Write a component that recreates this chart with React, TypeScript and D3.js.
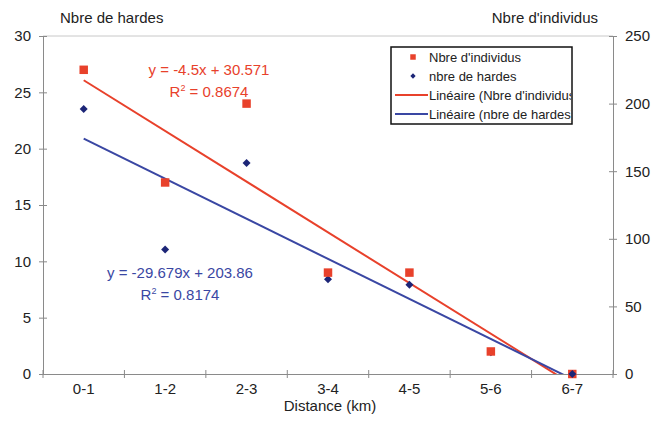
import React, { useRef, useEffect } from 'react';
import * as d3 from 'd3';

const categories = ['0-1', '1-2', '2-3', '3-4', '4-5', '5-6', '6-7'];
// red squares, read on the left axis
const individus = [27, 17, 24, 9, 9, 2, 0];
// blue diamonds, read on the right axis
const hardes = [196, 92, 156, 70, 66, 16, 0];
const leftTicks = [0, 5, 10, 15, 20, 25, 30];
const rightTicks = [0, 50, 100, 150, 200, 250];
const legendLabels = ["Nbre d'individus", 'nbre de hardes', "Linéaire (Nbre d'individus)", 'Linéaire (nbre de hardes)'];
const redEquation = ['y = -4.5x + 30.571', '0.8674'];
const blueEquation = ['y = -29.679x + 203.86', '0.8174'];

const RED = '#e8412b';
const BLUE = '#1c2577';
const BLUE_LINE = '#3a47a3';
const FONT = '"Liberation Sans", Arial, sans-serif';

// least squares fit on x = 1..n, like Excel's linear trendline
const fit = (ys: number[]) => {
  const xs = ys.map((_, i) => i + 1);
  const mx = d3.mean(xs)!;
  const my = d3.mean(ys)!;
  const sxy = d3.sum(xs, (x, i) => (x - mx) * (ys[i] - my));
  const sxx = d3.sum(xs, (x) => (x - mx) ** 2);
  const slope = sxy / sxx;
  return { slope, intercept: my - slope * mx };
};

const Chart = () => {
  const ref = useRef<SVGSVGElement>(null);

  useEffect(() => {
    const width = 662;
    const height = 424;
    const m = { left: 43, right: 613, top: 36, bottom: 374 };

    const svg = d3.select(ref.current).attr('width', width).attr('height', height);
    svg.selectAll('*').remove();

    const x = d3.scaleBand().domain(categories).range([m.left, m.right]);
    const xNum = d3.scaleLinear().domain([0.5, 7.5]).range([m.left, m.right]);
    const yL = d3.scaleLinear().domain([0, 30]).range([m.bottom, m.top]);
    const yR = d3.scaleLinear().domain([0, 250]).range([m.bottom, m.top]);

    svg.append('rect').attr('width', width).attr('height', height).attr('fill', '#fff');

    svg.append('defs').append('clipPath').attr('id', 'plot')
      .append('rect').attr('x', m.left).attr('y', m.top)
      .attr('width', m.right - m.left).attr('height', m.bottom - m.top);

    // plot area top border
    svg.append('line').attr('x1', m.left).attr('x2', m.right)
      .attr('y1', m.top).attr('y2', m.top).attr('stroke', '#c8c8c8');

    const axisColor = '#8a8a8a';
    const tickText = (g: any) => g.selectAll('text')
      .attr('font-family', FONT).attr('font-size', 15).attr('fill', '#222');

    const left = svg.append('g').attr('transform', `translate(${m.left},0)`)
      .call(d3.axisLeft(yL).tickValues(leftTicks).tickSize(4).tickSizeOuter(0).tickPadding(8));
    left.call(tickText);

    const right = svg.append('g').attr('transform', `translate(${m.right},0)`)
      .call(d3.axisRight(yR).tickValues(rightTicks).tickSize(4).tickSizeOuter(0).tickPadding(8));
    right.call(tickText);

    const bottom = svg.append('g').attr('transform', `translate(0,${m.bottom})`)
      .call(d3.axisBottom(x).tickSize(0).tickSizeOuter(0).tickPadding(9));
    bottom.call(tickText);

    // category boundary ticks
    svg.append('g').selectAll('line')
      .data(d3.range(categories.length + 1))
      .join('line')
      .attr('x1', (i) => m.left + i * x.step()).attr('x2', (i) => m.left + i * x.step())
      .attr('y1', m.bottom - 4).attr('y2', m.bottom + 4)
      .attr('stroke', axisColor);

    [left, right, bottom].forEach((g) => {
      g.select('.domain').attr('stroke', axisColor);
      g.selectAll('.tick line').attr('stroke', axisColor);
    });
    // make y ticks cross the axis
    left.selectAll('.tick line').attr('x1', 4);
    right.selectAll('.tick line').attr('x1', -4);

    // trend lines
    const trend = (ys: number[], scale: any, color: string) => {
      const { slope, intercept } = fit(ys);
      const line = d3.line<number>()
        .x((d) => xNum(d))
        .y((d) => scale(slope * d + intercept));
      svg.append('path').datum([1, categories.length])
        .attr('d', line).attr('fill', 'none')
        .attr('stroke', color).attr('stroke-width', 2)
        .attr('clip-path', 'url(#plot)');
    };
    trend(individus, yL, RED);
    trend(hardes, yR, BLUE_LINE);

    // markers
    const sq = d3.symbol().type(d3.symbolSquare).size(72);
    const dia = d3.symbol().type(d3.symbolSquare).size(32);
    const cx = (i: number) => x(categories[i])! + x.bandwidth() / 2;
    svg.append('g').selectAll('path').data(hardes).join('path')
      .attr('d', dia)
      .attr('transform', (d, i) => `translate(${cx(i)},${yR(d)}) rotate(45)`)
      .attr('fill', BLUE);
    svg.append('g').selectAll('path').data(individus).join('path')
      .attr('d', sq)
      .attr('transform', (d, i) => `translate(${cx(i)},${yL(d)})`)
      .attr('fill', RED);
    // last point: blue diamond on top of the red square
    svg.append('path').attr('d', dia)
      .attr('transform', `translate(${cx(6)},${yR(hardes[6])}) rotate(45)`)
      .attr('fill', BLUE);

    // axis titles
    const text = (tx: number, ty: number, s: string, anchor = 'start', size = 15, color = '#222') =>
      svg.append('text').attr('x', tx).attr('y', ty).attr('text-anchor', anchor)
        .attr('font-family', FONT).attr('font-size', size).attr('fill', color).text(s);
    text(60, 23, 'Nbre de hardes');
    text(598, 23, "Nbre d'individus", 'end');
    text(330, 411, 'Distance (km)', 'middle', 15);

    // equations
    const eq = (ex: number, ey: number, lines: string[], color: string) => {
      text(ex, ey, lines[0], 'middle', 15, color);
      const r = svg.append('text').attr('x', ex).attr('y', ey + 22).attr('text-anchor', 'middle')
        .attr('font-family', FONT).attr('font-size', 15).attr('fill', color);
      r.append('tspan').text('R');
      r.append('tspan').attr('font-size', 9).attr('dy', -6).text('2');
      r.append('tspan').attr('dy', 6).text(` = ${lines[1]}`);
    };
    eq(209, 75, redEquation, RED);
    eq(180, 278, blueEquation, BLUE_LINE);

    // legend
    const lg = { x: 391, y: 47, w: 181, h: 77 };
    svg.append('defs').append('clipPath').attr('id', 'legend')
      .append('rect').attr('x', lg.x).attr('y', lg.y).attr('width', lg.w - 1).attr('height', lg.h);
    svg.append('rect').attr('x', lg.x).attr('y', lg.y).attr('width', lg.w).attr('height', lg.h)
      .attr('fill', '#fff').attr('stroke', '#111').attr('stroke-width', 1.5);
    const items = svg.append('g').attr('clip-path', 'url(#legend)');
    legendLabels.forEach((label, i) => {
      const cy = lg.y + 10 + i * 19;
      if (i === 0) items.append('path').attr('d', d3.symbol().type(d3.symbolSquare).size(30))
        .attr('transform', `translate(413,${cy})`).attr('fill', RED);
      if (i === 1) items.append('path').attr('d', d3.symbol().type(d3.symbolSquare).size(14))
        .attr('transform', `translate(413,${cy}) rotate(45)`).attr('fill', BLUE);
      if (i >= 2) items.append('line').attr('x1', 395).attr('x2', 428)
        .attr('y1', cy).attr('y2', cy).attr('stroke', i === 2 ? RED : BLUE_LINE).attr('stroke-width', 2);
      items.append('text').attr('x', 429).attr('y', cy + 4.5)
        .attr('font-family', FONT).attr('font-size', 13).attr('fill', '#222').text(label);
    });
  }, []);

  return <svg ref={ref} style={{ position: 'absolute', left: 0, top: 0 }}></svg>;
};

export default function App() {
  return <Chart />;
}
